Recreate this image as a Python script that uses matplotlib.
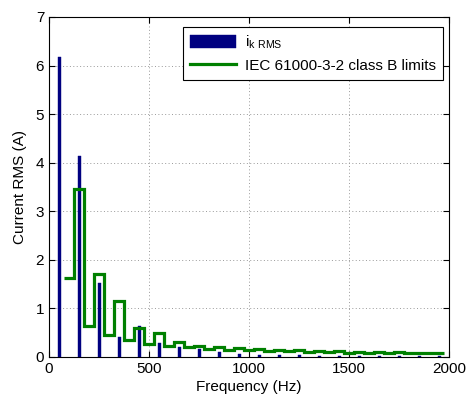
import numpy as np
import matplotlib
matplotlib.use("Agg")
import matplotlib.pyplot as plt

# Harmonic current spectrum (odd harmonics of 50 Hz)
freqs = [50, 150, 250, 350, 450, 550, 650, 750, 850, 950,
         1050, 1150, 1250, 1350, 1450, 1550, 1650, 1750, 1850, 1950]
ik_rms = [6.17, 4.14, 1.52, 0.41, 0.64, 0.29, 0.21, 0.16, 0.10, 0.07,
          0.05, 0.04, 0.04, 0.03, 0.03, 0.03, 0.02, 0.02, 0.02, 0.02]

# IEC 61000-3-2 class B limits, harmonics 2..39 (A)
limit_orders = list(range(2, 40))
limit_values = [1.62, 3.45, 0.645, 1.71, 0.45, 1.155, 0.345, 0.60, 0.276, 0.495,
                0.23, 0.315, 0.197, 0.225, 0.1725, 0.1985, 0.153, 0.178, 0.138, 0.161,
                0.1255, 0.147, 0.115, 0.135, 0.106, 0.1245, 0.0986, 0.1155, 0.092, 0.108,
                0.0863, 0.1015, 0.0812, 0.0955, 0.0767, 0.0902, 0.0726, 0.0855]

plt.rcParams['font.family'] = ['Liberation Sans', 'DejaVu Sans']

fig = plt.figure(figsize=(4.66, 3.99), dpi=100)
ax = fig.add_axes([49/466, 1 - 357/399, 400/466, 340/399])

bars = ax.bar(freqs, ik_rms, width=15, color='#000080', edgecolor='#000080',
              linewidth=0.3, label=r'$\mathregular{i_{k\ RMS}}$', zorder=3)

f0 = 50
edges = [o * f0 - f0 / 2 for o in limit_orders] + [limit_orders[-1] * f0 + f0 / 2]
st = ax.stairs(limit_values, edges, color='#008000', linewidth=2.3,
               label='IEC 61000-3-2 class B limits', zorder=4, baseline=None)

ax.set_xlim(0, 2000)
ax.set_ylim(0, 7)
ax.set_xticks([0, 500, 1000, 1500, 2000])
ax.set_yticks(range(0, 8))
ax.grid(True, linestyle=(0, (1, 2.5)), color='#999999', linewidth=0.7)
ax.set_axisbelow(True)
ax.tick_params(direction='in', labelsize=11, length=4, top=True, right=True)
ax.set_xlabel('Frequency (Hz)', fontsize=11, labelpad=3)
ax.set_ylabel('Current RMS (A)', fontsize=11, labelpad=6)

from matplotlib.lines import Line2D
line_handle = Line2D([], [], color='#008000', linewidth=2.3)
leg = ax.legend([bars, line_handle],
                [r'$\mathregular{i_{k\ RMS}}$', 'IEC 61000-3-2 class B limits'],
                loc='upper right', bbox_to_anchor=(0.985, 0.97), borderaxespad=0,
                fontsize=11, fancybox=False, framealpha=1,
                edgecolor='black', handlelength=3.0, handleheight=0.95,
                labelspacing=0.45, borderpad=0.45, handletextpad=0.6)
leg.get_frame().set_linewidth(0.8)

fig.savefig('out.png', dpi=100)
